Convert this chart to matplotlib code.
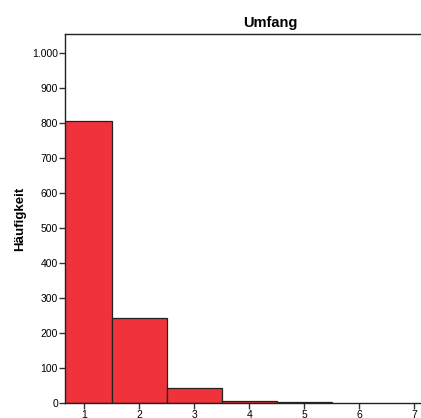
import numpy as np
import matplotlib.pyplot as plt
from matplotlib.ticker import FuncFormatter

plt.rcParams['font.family'] = ['Liberation Sans', 'DejaVu Sans']

# Umfang values 1..5, counts
umfang = np.array([1, 2, 3, 4, 5])
counts = np.array([806, 243, 43, 6, 4])
x_ticks = [1, 2, 3, 4, 5, 6, 7]
y_ticks = np.arange(0, 1001, 100)

fig = plt.figure(figsize=(4.21, 4.18), dpi=100)
ax = fig.add_axes([65 / 421, 15 / 418, 410 / 421, 369 / 418])

ax.bar(umfang, counts, width=1.0, color='#f0323a', edgecolor='#222222', linewidth=0.9)

ax.set_xlim(0.65, 8.1)
ax.set_ylim(0, 1054)
ax.set_xticks(x_ticks)
ax.set_yticks(y_ticks)
ax.yaxis.set_major_formatter(FuncFormatter(lambda v, p: f"{int(v):,}".replace(",", ".")))
ax.tick_params(labelsize=7.5, length=4, width=1, color='#333333', pad=1)

for s in ['left', 'top', 'bottom', 'right']:
    ax.spines[s].set_linewidth(1)
    ax.spines[s].set_color('#222222')

ax.set_title('Umfang', fontsize=10.5, fontweight='bold', pad=5)
ax.set_ylabel('Häufigkeit', fontsize=9.5, fontweight='bold')
ax.yaxis.set_label_coords(-0.095, 0.5)

fig.savefig('out.png', dpi=100)
